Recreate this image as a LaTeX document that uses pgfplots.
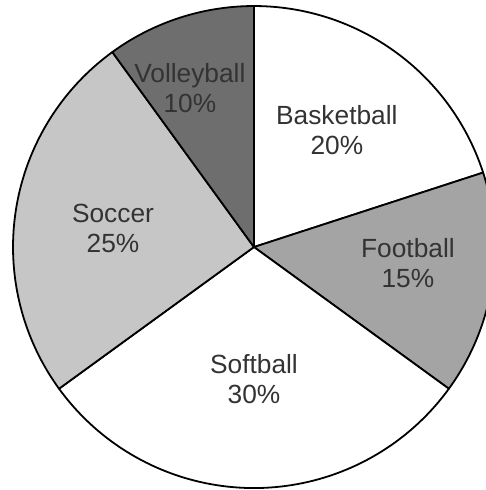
\documentclass[border=0pt]{standalone}
\usepackage{pgfplots}
\pgfplotsset{compat=1.18}
\usepackage{fontspec}
\setmainfont{Liberation Sans}
\definecolor{volley}{HTML}{6E6E6E}
\definecolor{foot}{HTML}{A4A4A4}
\definecolor{soccer}{HTML}{C6C6C6}
\definecolor{txt}{HTML}{333333}
% sector: start (cumulative %), share (%), fill colour; clockwise from top
\newcommand{\sector}[3]{%
  \pgfmathsetmacro{\angA}{90-3.6*(#1+#2)}%
  \pgfmathsetmacro{\angB}{90-3.6*#1}%
  \edef\doplot{\noexpand\addplot[fill=#3, draw=black, line width=0.9pt, line join=round,
     domain=\angA:\angB, samples=80, variable=\noexpand\t]
     ({cos(\noexpand\t)},{sin(\noexpand\t)}) -- (axis cs:0,0) -- cycle;}%
  \doplot
}
\begin{document}
\begin{tikzpicture}
\begin{axis}[
  scale only axis, width=243bp, height=245bp,
  xmin=-1.054, xmax=0.963, ymin=-1.008, ymax=1.025,
  axis line style={draw=none}, xtick=\empty, ytick=\empty,
  clip=true,
  nodes={font=\fontsize{13.2}{15}\selectfont, text=txt, align=center},
]
% shares in percent: Basketball 20, Football 15, Softball 30, Soccer 25, Volleyball 10
\sector{0}{20}{white}
\sector{20}{15}{foot}
\sector{35}{30}{white}
\sector{65}{25}{soccer}
\sector{90}{10}{volley}
\node at (axis cs:-0.266,0.660) {Volleyball\\10\%};
\node at (axis cs:0.344,0.485) {Basketball\\20\%};
\node at (axis cs:0.639,-0.066) {Football\\15\%};
\node at (axis cs:-0.585,0.079) {Soccer\\25\%};
\node at (axis cs:0,-0.548) {Softball\\30\%};
\end{axis}
\end{tikzpicture}
\end{document}
